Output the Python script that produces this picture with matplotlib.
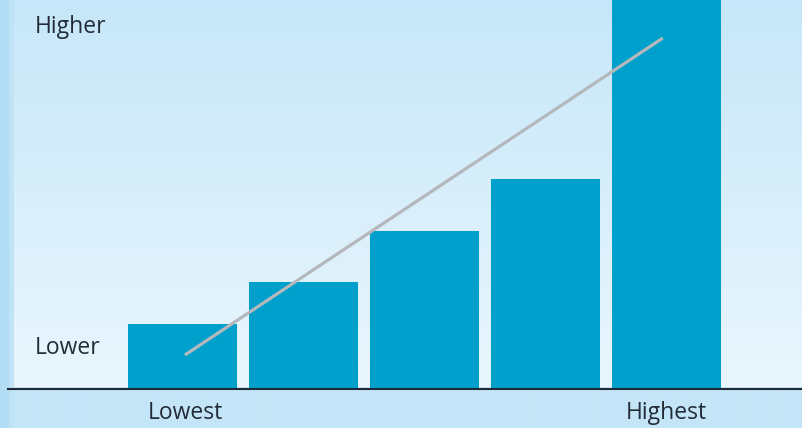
import numpy as np
import matplotlib
matplotlib.use("Agg")
import matplotlib.pyplot as plt
from matplotlib.colors import LinearSegmentedColormap

# Data
categories = ["Lowest", "2", "3", "4", "Highest"]
values = [65, 107, 158, 210, 420]
trend_x = [0.02, 3.97]
trend_y = [34, 351]
y_labels = ["Lower", "Higher"]

W, H = 803, 428
fig = plt.figure(figsize=(W / 100, H / 100), dpi=100)

# Background gradient
bg = fig.add_axes([0, 0, 1, 1])
bg.set_axis_off()
cmap = LinearSegmentedColormap.from_list(
    "bg", [(0.0, "#c6e7f9"), (389 / 428, "#eaf6fd"), (389.5 / 428, "#c4e5f7"), (1.0, "#c4e5f7")])
grad = np.linspace(0, 1, 428).reshape(-1, 1)
bg.imshow(grad, aspect="auto", cmap=cmap, extent=[0, 1, 0, 1], origin="upper")
bg.add_patch(plt.Rectangle((0, 0), 9 / W, 1, color="#b2dcf3", lw=0))
bg.add_patch(plt.Rectangle((9 / W, 0), 5 / W, 1, color="#c0e3f6", lw=0))
bg.set_xlim(0, 1)
bg.set_ylim(0, 1)

base_px = 389
ax = fig.add_axes([0, 1 - base_px / H, 1, base_px / H])
ax.patch.set_alpha(0)
x = np.arange(len(categories))
ax.bar(x, values, width=109 / 121, color="#00a0cc", zorder=2)
ax.plot(trend_x, trend_y, color="#b4b8bc", lw=2.3, zorder=3, solid_capstyle="butt")
ax.set_xlim(-182.5 / 121, (W - 182.5) / 121)
ax.set_ylim(0, base_px)
for s in ["top", "right", "left", "bottom"]:
    ax.spines[s].set_visible(False)
ax.axhline(0, xmin=8 / W, xmax=1, color="#1e2a38", lw=1.5, zorder=4, clip_on=False)
ax.set_xticks([])
ax.set_yticks([])

font = dict(family=["Open Sans", "DejaVu Sans"], fontsize=16.5, color="#222c38")
ax.text(35 / 121 - 182.5 / 121, base_px - 348, y_labels[0], va="center", ha="left", **font)
ax.text(35 / 121 - 182.5 / 121, base_px - 27, y_labels[1], va="center", ha="left", **font)
ax.text(0.02, -24, categories[0], ha="center", va="center", **font)
ax.text(4, -24, categories[-1], ha="center", va="center", **font)

fig.savefig("out.png", dpi=100)
